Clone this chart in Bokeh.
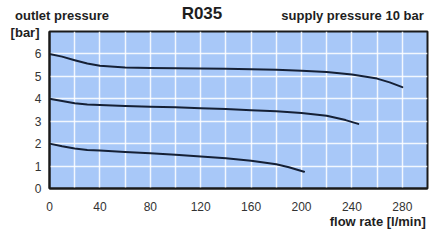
from bokeh.plotting import figure
from bokeh.models import FixedTicker, Range1d, LinearAxis
from bokeh.embed import file_html
from bokeh.resources import INLINE

# data
flow_6 = [0, 10, 20, 30, 40, 60, 80, 100, 120, 140, 160, 180, 200, 220, 240, 260, 270, 280]
pres_6 = [6.0, 5.88, 5.72, 5.57, 5.47, 5.40, 5.37, 5.36, 5.35, 5.34, 5.32, 5.29, 5.25, 5.19, 5.08, 4.90, 4.73, 4.52]

flow_4 = [0, 10, 20, 30, 40, 60, 80, 100, 120, 140, 160, 180, 200, 220, 235, 245]
pres_4 = [4.0, 3.9, 3.8, 3.75, 3.72, 3.68, 3.65, 3.62, 3.58, 3.54, 3.49, 3.44, 3.37, 3.24, 3.05, 2.88]

flow_2 = [0, 10, 20, 30, 40, 60, 80, 100, 120, 140, 160, 180, 190, 202]
pres_2 = [2.0, 1.88, 1.78, 1.72, 1.69, 1.63, 1.57, 1.50, 1.43, 1.35, 1.24, 1.08, 0.95, 0.75]

x_ticks = [0, 40, 80, 120, 160, 200, 240, 280]
x_grid = list(range(0, 301, 20))
y_ticks = [0, 1, 2, 3, 4, 5, 6]
y_grid = [0, 1, 2, 3, 4, 5, 6, 7]

title_text = "R035"
left_title = "outlet pressure"
right_title = "supply pressure 10 bar"
y_unit = "[bar]"
x_title = "flow rate [l/min]"

# anchor positions (data coordinates) for the header / axis texts
title_at = 121.0
left_title_at = 9.9
right_title_at = 240.5
y_unit_at = 6.97
x_title_at = 260.5

FONT = "Liberation Sans"
TXT = "#1e1e1e"

p = figure(width=430, height=241, output_backend="svg", toolbar_location=None,
           x_range=Range1d(0, 300), y_range=Range1d(0, 7),
           min_border_left=49, min_border_right=3, min_border_top=28, min_border_bottom=53)
p.title_location = None
p.background_fill_color = "#a8c8f8"
p.border_fill_color = "white"
p.outline_line_color = "#1a1a1a"
p.outline_line_width = 2

p.xaxis.ticker = FixedTicker(ticks=x_ticks)
p.yaxis.ticker = FixedTicker(ticks=y_ticks)
p.xgrid.ticker = FixedTicker(ticks=x_grid)
p.ygrid.ticker = FixedTicker(ticks=y_grid)
for g in (p.xgrid, p.ygrid):
    g.grid_line_color = "white"
    g.grid_line_width = 1.5
    g.grid_line_alpha = 0.85


def plain(ax):
    ax.major_tick_line_color = None
    ax.minor_tick_line_color = None
    ax.major_tick_out = 0
    ax.major_tick_in = 0
    ax.minor_tick_out = 0
    ax.minor_tick_in = 0
    ax.major_label_text_font = FONT


for ax in (p.xaxis[0], p.yaxis[0]):
    plain(ax)
    ax.axis_line_color = "#1a1a1a"
    ax.axis_line_width = 2
    ax.major_label_text_font_size = "12px"
    ax.major_label_text_color = "#333333"
p.xaxis[0].major_label_standoff = 13
p.yaxis[0].major_label_standoff = 8

for fx, py in ((flow_6, pres_6), (flow_4, pres_4), (flow_2, pres_2)):
    p.line(fx, py, line_color="#152035", line_width=2, line_join="round", line_cap="round")


def text_axis(place, ticks, texts, size, standoff):
    ax = LinearAxis(ticker=FixedTicker(ticks=ticks),
                    major_label_overrides={t: s for t, s in zip(ticks, texts)})
    plain(ax)
    ax.axis_line_color = None
    ax.major_label_text_font_size = size
    ax.major_label_text_font_style = "bold"
    ax.major_label_text_color = TXT
    ax.major_label_standoff = standoff
    p.add_layout(ax, place)
    return ax


# inner header row: big title; outer one: the two side captions pulled back onto the same row
text_axis("above", [title_at], [title_text], "17px", 9)
text_axis("above", [left_title_at, right_title_at], [left_title, right_title], "13px", -22)
text_axis("left", [y_unit_at], [y_unit], "13px", -8)
text_axis("below", [x_title_at], [x_title], "13px", 0)

open("out.html", "w").write(file_html(p, INLINE))
